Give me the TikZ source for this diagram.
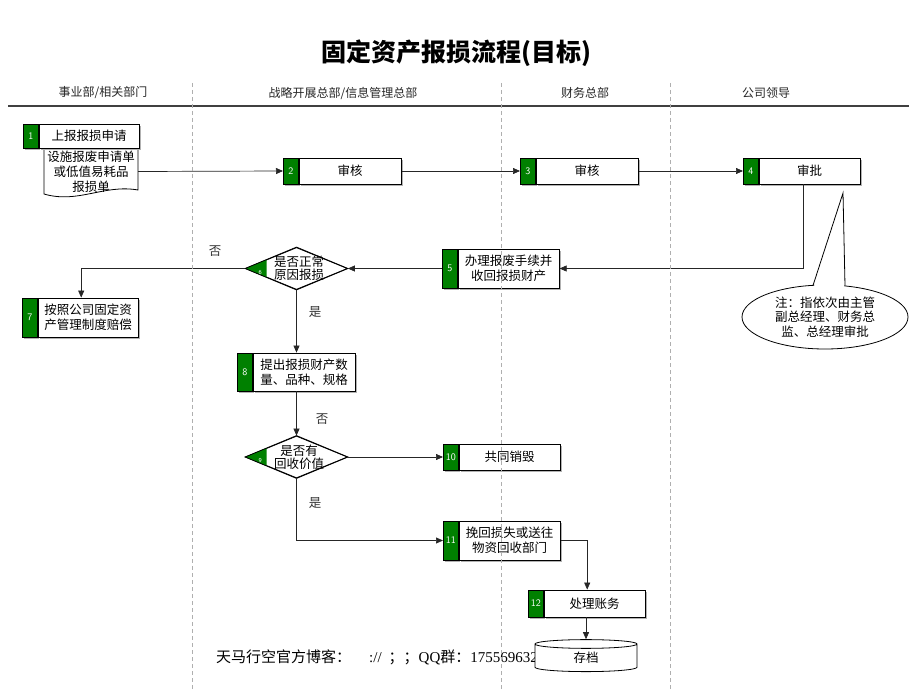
\documentclass[tikz,border=0pt]{standalone}
\usepackage{fontspec}
\usepackage{tikz}
\usetikzlibrary{positioning,shapes.geometric,arrows.meta,calc,shadows}
\setmainfont{Liberation Serif}
\newfontfamily\cjk{Noto Sans CJK SC}
\definecolor{stepgreen}{RGB}{0,128,0}
\definecolor{lanegray}{RGB}{175,175,175}
\tikzset{
  numcell/.style={draw=black, line width=0.8pt, fill=stepgreen, text=white,
    font=\sffamily\fontsize{10}{10}\selectfont, inner sep=0pt, minimum width=15, anchor=west,
    drop shadow={shadow xshift=1.5pt, shadow yshift=-1.5pt, fill=gray!60, opacity=1}},
  txtcell/.style={draw=black, line width=0.8pt, fill=white, align=center, inner sep=0pt,
    font=\cjk\fontsize{12.5}{15}\selectfont,
    drop shadow={shadow xshift=1.5pt, shadow yshift=-1.5pt, fill=gray!60, opacity=1}},
  decision/.style={diamond, draw=black, line width=0.8pt, fill=white, inner sep=0pt,
    minimum width=102, minimum height=42},
  dectext/.style={align=center, inner sep=0pt, font=\cjk\fontsize{12.5}{13.5}\selectfont},
  flow/.style={draw=black!85, line width=0.7pt, -{Triangle[length=7pt,width=6pt]}},
  lane/.style={draw=lanegray, line width=0.8pt, dash pattern=on 4pt off 3pt},
  lbl/.style={font=\cjk\fontsize{12.5}{15}\selectfont, text=black!80},
  head/.style={font=\cjk\fontsize{12}{14}\selectfont, text=black!85},
}
\begin{document}
\begin{tikzpicture}[x=1pt,y=-1pt]
\useasboundingbox (0,0) rectangle (920,690);

% title and lanes
\node[font=\cjk\bfseries\fontsize{25}{28}\selectfont] (title) at (456,53) {固定资产报损流程(目标)};
\node[head] (h1) at (103,93) {事业部/相关部门};
\node[head] (h2) at (343,93) {战略开展总部/信息管理总部};
\node[head] (h3) at (585,93) {财务总部};
\node[head] (h4) at (766,93) {公司领导};
\draw[line width=1.6pt, black!75] (8,106) -- (909,106);

% footer
\node[anchor=west, inner sep=0pt, font=\fontsize{15}{16}\selectfont] (foot) at (216,657)
  {{\cjk 天马行空官方博客：}\hspace{18pt}://\hspace{7pt}{\cjk ；}{\cjk ；}QQ{\cjk 群：}175569632};

% step 1 with document
\draw[line width=0.8pt, fill=white] (44,148) -- (138,148) -- (138,190)
  .. controls (104,184) and (78,204) .. (44,194) -- cycle;
\node[align=center, inner sep=0pt, minimum width=94, minimum height=47,
  font=\cjk\fontsize{12.5}{15}\selectfont] (doc1) at (91,171.5)
  {设施报废申请单\\或低值易耗品\\报损单};
\node[numcell, minimum height=24] (n1) at (23,136) {1};
\node[txtcell, minimum height=24, minimum width=100, right=0pt of n1] (b1) {上报报损申请};

% steps 2-4
\node[numcell, minimum height=26] (n2) at (283,171) {2};
\node[txtcell, minimum height=26, minimum width=102, right=0pt of n2] (b2) {审核};
\node[numcell, minimum height=26] (n3) at (520,171) {3};
\node[txtcell, minimum height=26, minimum width=102, right=0pt of n3] (b3) {审核};
\node[numcell, minimum height=26] (n4) at (743,171) {4};
\node[txtcell, minimum height=26, minimum width=101, right=0pt of n4] (b4) {审批};

% step 5
\node[numcell, minimum height=39] (n5) at (442,268.5) {5};
\node[txtcell, minimum height=39, minimum width=101, right=0pt of n5] (b5) {办理报废手续并\\收回报损财产};

% step 6
\node[decision] (d6) at (296.5,268.5) {};
\fill[stepgreen] (d6.west) -- ($(d6.west)!0.42!(d6.north)$) -- ($(d6.west)!0.42!(d6.south)$) -- cycle;
\draw[line width=0.8pt] (d6.west) -- (d6.north) -- (d6.east) -- (d6.south) -- cycle;
\node[text=white, font=\sffamily\fontsize{6}{6}\selectfont, inner sep=0pt] (k6) at ($(d6.west)+(15,4)$) {6};
\node[dectext] (t6) at (299,268.5) {是否正常\\原因报损};

% step 7
\node[numcell, minimum height=39] (n7) at (22,317.5) {7};
\node[txtcell, minimum height=39, minimum width=100, right=0pt of n7] (b7) {按照公司固定资\\产管理制度赔偿};

% step 8
\node[numcell, minimum height=38] (n8) at (237,372) {8};
\node[txtcell, minimum height=38, minimum width=102, right=0pt of n8] (b8) {提出报损财产数\\量、品种、规格};

% step 9
\node[decision] (d9) at (296.5,457) {};
\fill[stepgreen] (d9.west) -- ($(d9.west)!0.42!(d9.north)$) -- ($(d9.west)!0.42!(d9.south)$) -- cycle;
\draw[line width=0.8pt] (d9.west) -- (d9.north) -- (d9.east) -- (d9.south) -- cycle;
\node[text=white, font=\sffamily\fontsize{6}{6}\selectfont, inner sep=0pt] (k9) at ($(d9.west)+(15,4)$) {9};
\node[dectext] (t9) at (299,457.5) {是否有\\回收价值};

% steps 10-12
\node[numcell, minimum height=26] (n10) at (443,457) {10};
\node[txtcell, minimum height=26, minimum width=101, right=0pt of n10] (b10) {共同销毁};
\node[numcell, minimum height=39] (n11) at (443,540.5) {11};
\node[txtcell, minimum height=39, minimum width=101, right=0pt of n11] (b11) {挽回损失或送往\\物资回收部门};
\node[numcell, minimum height=27] (n12) at (528,603.5) {12};
\node[txtcell, minimum height=27, minimum width=101, right=0pt of n12] (b12) {处理账务};

% archive
\node[cylinder, shape border rotate=90, aspect=0.35, draw=black, line width=0.8pt, fill=white,
  minimum width=102, minimum height=32, inner sep=0pt,
  font=\cjk\fontsize{12.5}{15}\selectfont] (c13) at (586,658) {存档};

% note
\node[ellipse, draw=black, line width=0.8pt, fill=white, minimum width=166, minimum height=64,
  inner sep=0pt, align=center, font=\cjk\fontsize{12.5}{14.5}\selectfont] (note) at (825,317)
  {注：指依次由主管\\副总经理、财务总\\监、总经理审批};
\coordinate (tip4) at (843,193);
\fill[white] (813.5,288) -- (tip4) -- (844.5,288) -- cycle;
\draw[line width=0.8pt] (813,285.5) -- (tip4) -- (845,285.8);

% connectors
\draw[flow] (doc1.east) -- (n2.west);
\draw[flow] (b2.east) -- (n3.west);
\draw[flow] (b3.east) -- (n4.west);
\draw[flow] ([xshift=-6.5]b4.south) |- (b5.east);
\draw[flow] (n5.west) -- (d6.east);
\draw[flow] (d6.west) -| ([xshift=-7]b7.north);
\draw[flow] (d6.south) -- (d6.south |- b8.north);
\draw[flow] (d9.north |- b8.south) -- (d9.north);
\draw[flow] (d9.east) -- (n10.west);
\draw[flow] (d9.south) |- (n11.west);
\draw[flow] (b11.east) -| ([xshift=-7.5]b12.north);
\draw[flow] (c13.north |- b12.south) -- (c13.north);

\node[lbl] (no6) at (215,251) {否};
\node[lbl] (yes6) at (315,312) {是};
\node[lbl] (no9) at (322,419) {否};
\node[lbl] (yes9) at (315,503) {是};

% lane separators
\draw[lane] (192,83) -- (192,690);
\draw[lane] (501,83) -- (501,690);
\draw[lane] (670,83) -- (670,690);
\end{tikzpicture}
\end{document}
